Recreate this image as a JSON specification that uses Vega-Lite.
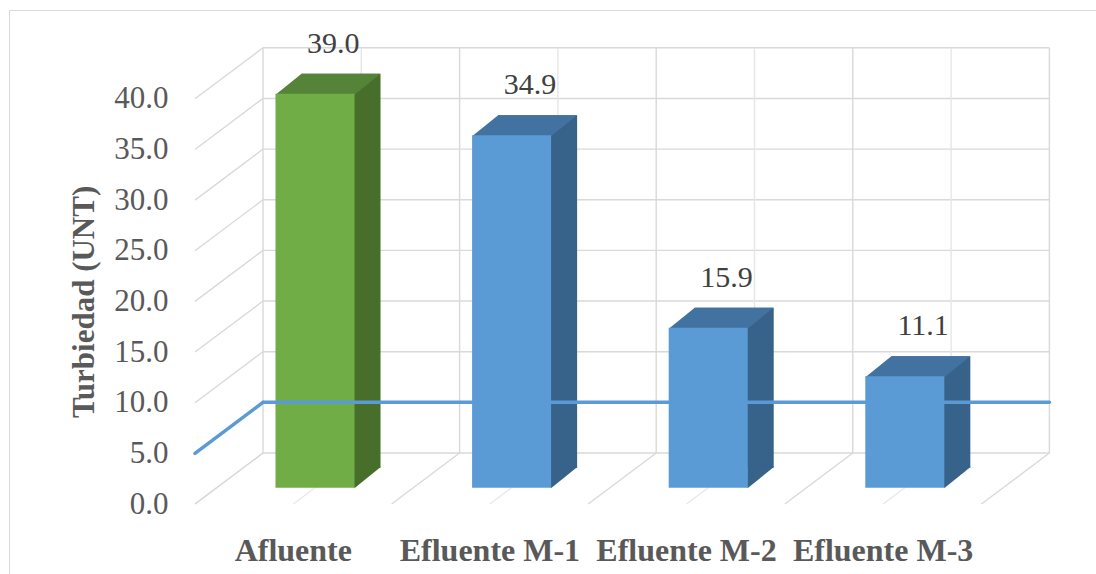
{
  "$schema": "https://vega.github.io/schema/vega-lite/v6.json",
  "autosize": {"type": "none"},
  "padding": {"left": 9, "top": 10, "right": 0, "bottom": 0},
  "width": 1087,
  "height": 564,
  "background": "white",
  "config": {
    "view": {"stroke": "#d9d9d9", "strokeWidth": 1, "strokeDash": [1087, 1651, 564]},
    "font": "Liberation Serif",
    "axisX": {
      "domain": false, "ticks": false, "tickSize": 0, "grid": false,
      "labelAngle": 0, "labelFont": "Liberation Serif", "labelFontSize": 32, "labelFontWeight": "bold",
      "labelColor": "#595959", "labelBaseline": "alphabetic", "labelPadding": 0, "offset": -14,
      "labelLimit": 0, "labelOverlap": false
    },
    "axisY": {
      "domain": false, "ticks": false, "tickSize": 0, "grid": false, "offset": -159, "labelPadding": 0,
      "labelFont": "Liberation Serif", "labelFontSize": 31, "labelColor": "#595959",
      "titleFont": "Liberation Serif", "titleFontSize": 31, "titleFontWeight": "bold", "titleColor": "#595959",
      "titlePadding": 13
    }
  },
  "datasets": {
    "muestras": [
      {"muestra": "Afluente", "turbiedad": 39.0},
      {"muestra": "Efluente M-1", "turbiedad": 34.9},
      {"muestra": "Efluente M-2", "turbiedad": 15.9},
      {"muestra": "Efluente M-3", "turbiedad": 11.1}
    ],
    "escala": [{"v": 0}, {"v": 5}, {"v": 10}, {"v": 15}, {"v": 20}, {"v": 25}, {"v": 30}, {"v": 35}, {"v": 40}],
    "limite": [{"lmp": 5}]
  },
  "layer": [
    {
      "data": {"name": "escala"},
      "mark": {"type": "rule", "color": "#d9d9d9", "strokeWidth": 1.4, "xOffset": 68, "x2Offset": 68, "yOffset": -51},
      "encoding": {
        "x": {"datum": "Afluente", "type": "nominal", "bandPosition": 0},
        "x2": {"datum": "Efluente M-3", "bandPosition": 1},
        "y": {"field": "v", "type": "quantitative"}
      }
    },
    {
      "data": {"name": "muestras"},
      "mark": {"type": "rule", "color": "#d9d9d9", "strokeWidth": 1.4, "xOffset": 68, "yOffset": -51, "y2Offset": -51},
      "encoding": {
        "x": {"field": "muestra", "type": "nominal", "bandPosition": 0},
        "y": {"datum": 0, "type": "quantitative"},
        "y2": {"datum": 40}
      }
    },
    {
      "data": {"name": "muestras"},
      "mark": {"type": "rule", "color": "#e6e6e6", "strokeWidth": 1.4, "xOffset": 68, "yOffset": -51, "y2Offset": -51},
      "encoding": {
        "x": {"field": "muestra", "type": "nominal", "bandPosition": 0.5},
        "y": {"datum": 0, "type": "quantitative"},
        "y2": {"datum": 40}
      }
    },
    {
      "data": {"name": "muestras"},
      "transform": [{"filter": "datum.muestra === 'Efluente M-3'"}],
      "mark": {"type": "rule", "color": "#d9d9d9", "strokeWidth": 1.4, "xOffset": 68, "yOffset": -51, "y2Offset": -51},
      "encoding": {
        "x": {"field": "muestra", "type": "nominal", "bandPosition": 1},
        "y": {"datum": 0, "type": "quantitative"},
        "y2": {"datum": 40}
      }
    },
    {
      "data": {"name": "escala"},
      "mark": {"type": "rule", "color": "#d9d9d9", "strokeWidth": 1.4, "x2Offset": 68, "y2Offset": -51},
      "encoding": {
        "x": {"datum": "Afluente", "type": "nominal", "bandPosition": 0},
        "x2": {"datum": "Afluente", "bandPosition": 0},
        "y": {"field": "v", "type": "quantitative"},
        "y2": {"field": "v"}
      }
    },
    {
      "data": {"name": "muestras"},
      "mark": {"type": "rule", "color": "#d9d9d9", "strokeWidth": 1.4, "x2Offset": 68, "y2Offset": -51},
      "encoding": {
        "x": {"field": "muestra", "type": "nominal", "bandPosition": 0},
        "x2": {"field": "muestra", "bandPosition": 0},
        "y": {"datum": 0, "type": "quantitative"},
        "y2": {"datum": 0}
      }
    },
    {
      "data": {"name": "muestras"},
      "mark": {"type": "rule", "color": "#e8e8e8", "strokeWidth": 1.4, "x2Offset": 68, "y2Offset": -51},
      "encoding": {
        "x": {"field": "muestra", "type": "nominal", "bandPosition": 0.5},
        "x2": {"field": "muestra", "bandPosition": 0.5},
        "y": {"datum": 0, "type": "quantitative"},
        "y2": {"datum": 0}
      }
    },
    {
      "data": {"name": "muestras"},
      "transform": [{"filter": "datum.muestra === 'Efluente M-3'"}],
      "mark": {"type": "rule", "color": "#d9d9d9", "strokeWidth": 1.4, "x2Offset": 68, "y2Offset": -51},
      "encoding": {
        "x": {"field": "muestra", "type": "nominal", "bandPosition": 1},
        "x2": {"field": "muestra", "bandPosition": 1},
        "y": {"datum": 0, "type": "quantitative"},
        "y2": {"datum": 0}
      }
    },
    {
      "data": {"name": "muestras"},
      "mark": {"type": "bar", "width": {"band": 0.402}, "xOffset": 47.7, "yOffset": -35.3, "y2Offset": -36.3},
      "encoding": {
        "x": {
          "field": "muestra", "type": "nominal", "sort": null,
          "scale": {"domain": ["Afluente", "Efluente M-1", "Efluente M-2", "Efluente M-3"], "range": [186, 972.4], "paddingInner": 0, "paddingOuter": 0},
          "axis": {"title": null}
        },
        "y": {
          "field": "turbiedad", "type": "quantitative",
          "scale": {"domain": [0, 40], "range": [494, 88.8], "nice": false},
          "axis": {"title": "Turbiedad (UNT)", "values": [0, 5, 10, 15, 20, 25, 30, 35, 40], "format": ".1f"}
        },
        "y2": {"datum": 0},
        "color": {"condition": {"test": "datum.muestra === 'Afluente'", "value": "#476f2b"}, "value": "#37628a"}
      }
    },
    {
      "data": {"name": "muestras"},
      "mark": {"type": "point", "shape": "M 0.39 -0.21 L 0.39 0 L 0.4 0 L 0.66 -0.21 Z", "size": 40000, "filled": true, "opacity": 1, "strokeWidth": 0, "xOffset": 21.7, "yOffset": -16.3},
      "encoding": {
        "x": {"field": "muestra", "type": "nominal"},
        "y": {"datum": 0, "type": "quantitative"},
        "color": {"condition": {"test": "datum.muestra === 'Afluente'", "value": "#476f2b"}, "value": "#37628a"}
      }
    },
    {
      "data": {"name": "muestras"},
      "mark": {"type": "point", "shape": "M -0.395 0.01 L 0.395 0.01 L 0.655 -0.2 L -0.135 -0.2 Z", "size": 40000, "filled": true, "opacity": 1, "strokeWidth": 0, "xOffset": 21.7, "yOffset": -15.3},
      "encoding": {
        "x": {"field": "muestra", "type": "nominal"},
        "y": {"field": "turbiedad", "type": "quantitative"},
        "color": {"condition": {"test": "datum.muestra === 'Afluente'", "value": "#558338"}, "value": "#42729f"}
      }
    },
    {
      "data": {"name": "muestras"},
      "transform": [{"filter": "datum.muestra === 'Afluente'"}],
      "mark": {"type": "bar", "color": "#70ad47", "width": {"band": 0.402}, "xOffset": 21.7, "yOffset": -15.3, "y2Offset": -16.3},
      "encoding": {
        "x": {"field": "muestra", "type": "nominal"},
        "y": {"field": "turbiedad", "type": "quantitative"},
        "y2": {"datum": 0}
      }
    },
    {
      "data": {"name": "limite"},
      "mark": {"type": "rule", "color": "#5b9bd5", "strokeWidth": 3.5, "strokeCap": "round", "xOffset": 68, "x2Offset": 68, "yOffset": -51},
      "encoding": {
        "x": {"datum": "Afluente", "type": "nominal", "bandPosition": 0},
        "x2": {"datum": "Efluente M-3", "bandPosition": 1},
        "y": {"field": "lmp", "type": "quantitative"}
      }
    },
    {
      "data": {"name": "limite"},
      "mark": {"type": "rule", "color": "#5b9bd5", "strokeWidth": 3.5, "strokeCap": "round", "x2Offset": 68, "y2Offset": -51},
      "encoding": {
        "x": {"datum": "Afluente", "type": "nominal", "bandPosition": 0},
        "x2": {"datum": "Afluente", "bandPosition": 0},
        "y": {"field": "lmp", "type": "quantitative"},
        "y2": {"field": "lmp"}
      }
    },
    {
      "data": {"name": "muestras"},
      "transform": [{"filter": "datum.muestra !== 'Afluente'"}],
      "mark": {"type": "bar", "color": "#5b9bd5", "width": {"band": 0.402}, "xOffset": 21.7, "yOffset": -15.3, "y2Offset": -16.3},
      "encoding": {
        "x": {"field": "muestra", "type": "nominal"},
        "y": {"field": "turbiedad", "type": "quantitative"},
        "y2": {"datum": 0}
      }
    },
    {
      "data": {"name": "muestras"},
      "mark": {"type": "text", "font": "Liberation Serif", "fontSize": 30, "color": "#404040", "align": "center", "baseline": "middle", "xOffset": 40, "yOffset": -65.3},
      "encoding": {
        "x": {"field": "muestra", "type": "nominal"},
        "y": {"field": "turbiedad", "type": "quantitative"},
        "text": {"field": "turbiedad", "type": "quantitative", "format": ".1f"}
      }
    }
  ]
}
